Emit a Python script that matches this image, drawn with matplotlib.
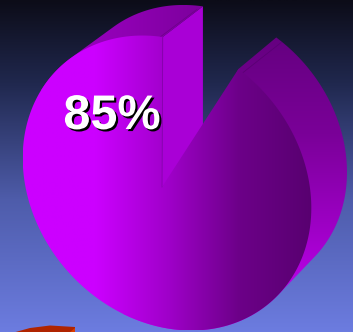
import numpy as np
import matplotlib
matplotlib.use('Agg')
import matplotlib.pyplot as plt
import matplotlib.patheffects as pe
from matplotlib.patches import PathPatch
from matplotlib.path import Path

# share of the pie, second value is the slice pulled out of the picture
shares = [85, 15]
share_labels = ['85%']

W, H = 353, 332

# disc seen at an angle: tilted ellipse, pixels
CENTER = np.array([167.0, 183.0])
AXIS_A = 158 * np.array([0.66, 0.75])
AXIS_B = 133 * np.array([-0.75, 0.66])
START = -135.4      # where the slice gap starts on the ellipse
FORESHORTEN = 0.58  # view compresses the gap on this side of the disc


def ellipse(deg, center=CENTER, scale=1.0):
    t = np.radians(deg)
    return center + scale * (np.cos(t)[:, None] * AXIS_A + np.sin(t)[:, None] * AXIS_B)


def gradient(ax, verts, colors, angle='h', order=1):
    path = Path(np.vstack([verts, verts[0]]), closed=True)
    t = np.linspace(0, 1, 256)
    stops = np.linspace(0, 1, len(colors))
    rgb = np.array([np.interp(t, stops, [matplotlib.colors.to_rgb(c)[i] for c in colors]) for i in range(3)]).T
    x0, y0 = verts.min(axis=0)
    x1, y1 = verts.max(axis=0)
    img = rgb[None, :, :] if angle == 'h' else rgb[:, None, :]
    im = ax.imshow(img, extent=(x0, x1, y1, y0), aspect='auto', zorder=order, interpolation='bilinear')
    im.set_clip_path(PathPatch(path, transform=ax.transData))


def hull(pts):
    pts = sorted(map(tuple, pts))

    def half(seq):
        out = []
        for p in seq:
            while len(out) > 1:
                a, b = np.subtract(out[-1], out[-2]), np.subtract(p, out[-1])
                if a[0] * b[1] - a[1] * b[0] > 0:
                    break
                out.pop()
            out.append(p)
        return out[:-1]
    return np.array(half(pts) + half(pts[::-1]))


fig = plt.figure(figsize=(W / 100, H / 100), dpi=100)
ax = fig.add_axes([0, 0, 1, 1])

# backdrop
bg = np.linspace(0, 1, 256)
stops = [0, 0.25, 0.6, 1]
cols = np.array([[12, 12, 24], [32, 40, 78], [78, 92, 170], [108, 124, 224]]) / 255
ax.imshow(np.stack([np.interp(bg, stops, cols[:, i]) for i in range(3)], axis=1)[:, None, :],
          extent=(0, W, H, 0), aspect='auto', zorder=0)

gap = shares[1] / sum(shares) * 360
angles = np.linspace(START + gap * FORESHORTEN, START + 360, 400)
front = ellipse(angles)
back = ellipse(angles, CENTER + [40, -35], 0.97)
apex = np.array([[162.0, 187.0]])

# outer rim on the right, lit from below
right = angles <= START + 200
rim_r = hull(np.vstack([front[right], back[right]]))
gradient(ax, rim_r, ['#650080', '#7a0098', '#a000c8', '#cc00ff'], 'v', 1)

# outer rim at the top left
top = angles >= START + 300
rim_t = hull(np.vstack([front[top], back[top]]))
gradient(ax, rim_t, ['#9c00c4', '#9000b4', '#7c009c'], 'h', 1)

# seams along the rim edges
ax.plot([front[-1, 0] - 4, back[-1, 0] - 6], [front[-1, 1] + 1, back[-1, 1] + 3], color='#70008c', lw=0.6, zorder=2)
ax.plot([front[0, 0] + 4, back[0, 0] + 5], [front[0, 1] + 4, back[0, 1] + 5], color='#5a0074', lw=0.6, zorder=2)

# cut face of the missing slice
cut = np.array([front[-1], back[-1], back[-1] + [0, 140], apex[0]])
ax.fill(cut[:, 0], cut[:, 1], color='#a900d6', zorder=2, lw=0)

# main disc
disc = np.vstack([apex, front])
gradient(ax, disc, ['#cc00ff', '#cc00ff', '#a000ca', '#6c0088', '#580070'], 'h', 3)
ax.plot([apex[0, 0], front[-1, 0]], [apex[0, 1], front[-1, 1]], color='#8a00b0', lw=0.6, zorder=4)

# corner of the next pie showing at the bottom
next_rim = np.array([(12, 333), (30, 328), (50, 325.5), (75, 327), (75, 333)], dtype=float)
ax.fill(next_rim[:, 0], next_rim[:, 1], color='#b02400', zorder=2, lw=0)
next_face = np.array([(69, 333), (75, 328), (75, 333)], dtype=float)
ax.fill(next_face[:, 0], next_face[:, 1], color='#d83c00', zorder=2, lw=0)

ax.text(112, 116.5, share_labels[0], color='white', fontsize=35, fontweight='bold',
        family='Liberation Sans', ha='center', va='center', zorder=6,
        path_effects=[pe.withSimplePatchShadow(offset=(1.5, -1.5), shadow_rgbFace='black', alpha=1)])

ax.axis('off')
ax.set_xlim(0, W)
ax.set_ylim(H, 0)
fig.savefig('out.png', dpi=100)
